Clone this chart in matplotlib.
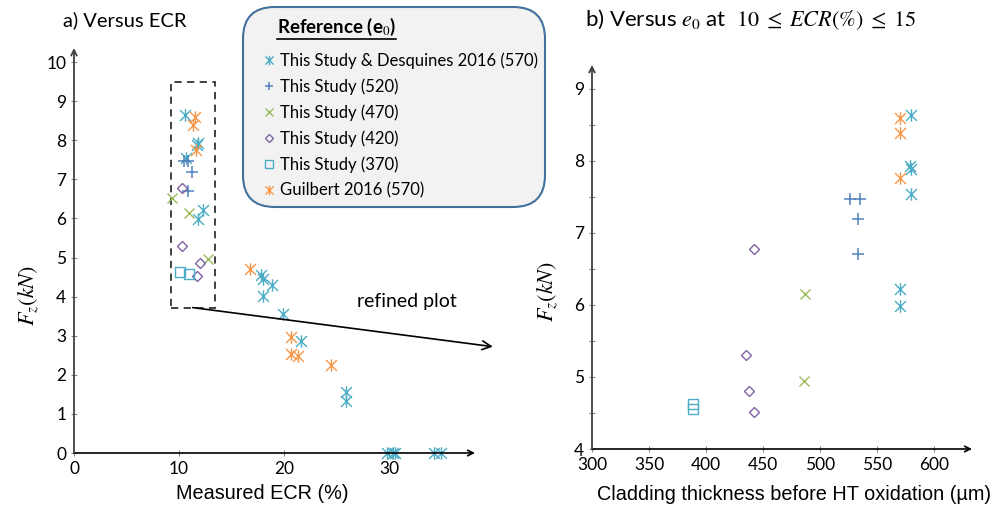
import numpy as np
import matplotlib
matplotlib.use("Agg")
import matplotlib.pyplot as plt
from matplotlib.path import Path
from matplotlib.patches import Rectangle, FancyBboxPatch
from matplotlib.lines import Line2D

plt.rcParams['font.family'] = ['Lato', 'DejaVu Sans']
plt.rcParams['mathtext.fontset'] = 'stix'

# --- datos ---
# a) Fz vs ECR medido
ecr_570 = [10.6, 11.8, 11.7, 10.7, 12.3, 11.8, 17.8, 18.0, 18.9, 18.0, 19.9, 21.6,
           25.9, 25.9, 29.8, 30.4, 30.6, 34.3, 35.0]
fz_570 = [8.64, 7.93, 7.88, 7.54, 6.22, 5.99, 4.55, 4.46, 4.31, 4.02, 3.55, 2.86,
          1.56, 1.33, 0, 0, 0, 0, 0]
ecr_guil = [11.5, 11.3, 11.6, 16.8, 20.7, 20.7, 21.3, 24.5]
fz_guil = [8.59, 8.38, 7.76, 4.71, 2.97, 2.52, 2.48, 2.25]
ecr_520 = [10.5, 10.9, 11.2, 10.9]
fz_520 = [7.47, 7.47, 7.19, 6.71]
ecr_470 = [9.3, 11.0, 12.8]
fz_470 = [6.53, 6.15, 4.96]
ecr_420 = [10.3, 10.3, 12.0, 11.7]
fz_420 = [6.77, 5.30, 4.85, 4.54]
ecr_370 = [10.1, 11.0]
fz_370 = [4.64, 4.58]

# b) Fz vs espesor inicial (10 <= ECR <= 15)
e0_570 = [579.8, 579.0, 580.0, 579.8, 570.2, 570.0]
fzb_570 = [8.64, 7.93, 7.88, 7.54, 6.22, 5.99]
e0_guil = [570.2, 570.0, 570.0]
fzb_guil = [8.59, 8.38, 7.76]
e0_520 = [526.3, 535.0, 533.6, 533.6]
fzb_520 = [7.47, 7.47, 7.19, 6.71]
e0_470 = [486.8, 486.0]
fzb_470 = [6.15, 4.95]
e0_420 = [442.0, 434.8, 437.7, 442.0]
fzb_420 = [6.77, 5.30, 4.80, 4.52]
e0_370 = [388.9, 388.9]
fzb_370 = [4.63, 4.55]

labels = ['This Study & Desquines 2016 (570)', 'This Study (520)', 'This Study (470)',
          'This Study (420)', 'This Study (370)', 'Guilbert 2016 (570)']

cyan, orange, blue = '#4bacc6', '#f79646', '#4f81bd'
green, purple = '#9bbb59', '#8064a2'

# marcador asterisco tipo Excel (x + barra vertical)
ast = Path([(-1, -1), (1, 1), (-1, 1), (1, -1), (0, -1.15), (0, 1.15)],
           [Path.MOVETO, Path.LINETO] * 3)

styles = [dict(marker=ast, color=cyan, ms=9, mew=1.0),
          dict(marker='+', color=blue, ms=8, mew=1.1),
          dict(marker='x', color=green, ms=7, mew=1.0),
          dict(marker='D', color=purple, ms=5.5, mew=1.0, mfc='none'),
          dict(marker='s', color=cyan, ms=7, mew=1.0, mfc='none'),
          dict(marker=ast, color=orange, ms=9, mew=1.0)]


def setup_axes(ax):
    for s in ax.spines.values():
        s.set_visible(False)
    ax.annotate('', xy=(1, 0), xytext=(0, 0), xycoords='axes fraction',
                arrowprops=dict(arrowstyle='->', color='black', lw=1.2,
                                shrinkA=0, shrinkB=0))
    ax.annotate('', xy=(0, 1), xytext=(0, 0), xycoords='axes fraction',
                arrowprops=dict(arrowstyle='->', color='#404040', lw=1.3,
                                shrinkA=0, shrinkB=0))
    ax.tick_params(direction='inout', length=5, width=0.8, color='#888888',
                   labelsize=12.5, pad=3)
    ax.tick_params(which='minor', direction='inout', length=4, width=0.8,
                   color='#888888')


fig = plt.figure(figsize=(9.93, 5.09), dpi=100)

# ---- panel a ----
ax1 = fig.add_axes([74 / 993, 56 / 509, 401 / 993, 405 / 509])
setup_axes(ax1)
ax1.set_xlim(0, 38.2)
ax1.set_ylim(0, 10.36)
ax1.set_xticks([0, 10, 20, 30])
ax1.set_yticks(range(0, 11))
series_a = [(ecr_570, fz_570), (ecr_520, fz_520), (ecr_470, fz_470),
            (ecr_420, fz_420), (ecr_370, fz_370), (ecr_guil, fz_guil)]
for (x, y), st, lab in zip(series_a, styles, labels):
    ax1.plot(x, y, ls='none', label=lab, clip_on=False, **st)

ax1.add_patch(Rectangle((9.2, 3.72), 4.2, 5.78, fill=False, ls=(0, (4, 3)),
                        ec='#333333', lw=1.3))
ax1.annotate('', xy=(39.9, 2.72), xytext=(11.3, 3.72), annotation_clip=False,
             arrowprops=dict(arrowstyle='->', color='black', lw=1.2,
                             shrinkA=0, shrinkB=0, mutation_scale=16))
ax1.text(27.0, 3.88, 'refined plot', fontsize=14, va='center', ha='left')

ax1.set_xlabel('Measured ECR (%)', fontsize=14.3, family='Liberation Sans')
ax1.xaxis.set_label_coords(0.469, -0.077)
ax1.set_ylabel(r'$F_z(kN)$', fontsize=16)
ax1.yaxis.set_label_coords(-0.083, 0.39)

# ---- panel b ----
ax2 = fig.add_axes([592 / 993, 60 / 509, 380 / 993, 384 / 509])
setup_axes(ax2)
ax2.set_xlim(300, 633.3)
ax2.set_ylim(4, 9.33)
ax2.set_xticks(range(300, 601, 50))
ax2.set_yticks(range(4, 10))
ax2.set_yticks(np.arange(4.5, 9.1, 1.0), minor=True)
series_b = [(e0_570, fzb_570), (e0_520, fzb_520), (e0_470, fzb_470),
            (e0_420, fzb_420), (e0_370, fzb_370), (e0_guil, fzb_guil)]
for (x, y), st in zip(series_b, styles):
    ax2.plot(x, y, ls='none', clip_on=False, **st)

ax2.set_xlabel('Cladding thickness before HT oxidation (µm)', fontsize=14.3,
               family='Liberation Sans')
ax2.xaxis.set_label_coords(0.532, -0.094)
ax2.set_ylabel(r'$F_z(kN)$', fontsize=16)
ax2.yaxis.set_label_coords(-0.085, 0.409)

# titulos
fig.text(63 / 993, 1 - 20 / 509, 'a) Versus ECR', fontsize=14.5, va='center')
fig.text(585 / 993, 1 - 20 / 509,
         r'b) Versus $e_0$ at  $10\;\leq\;ECR(\%)\;\leq\;15$', fontsize=16,
         va='center')

# leyenda con caja redondeada
box = FancyBboxPatch((243 / 993, 1 - 207 / 509), 302 / 993, 200 / 509,
                     boxstyle='round,pad=0,rounding_size=0.032',
                     mutation_aspect=993 / 509, transform=fig.transFigure,
                     fc='#f2f2f2', ec='#41719c', lw=1.5)
fig.patches.append(box)
title = fig.text(277 / 993, 1 - 27 / 509, r'Reference (e$_0$)', fontsize=13.5,
                 fontweight='bold', va='center')
fig.canvas.draw()
bb = title.get_window_extent().transformed(fig.transFigure.inverted())
fig.add_artist(Line2D([bb.x0, bb.x1], [1 - 39 / 509] * 2, color='black', lw=1.2,
                      transform=fig.transFigure))

leg_handles = []
for st in styles:
    st2 = dict(st)
    st2['ms'] = st['ms'] * 0.75
    leg_handles.append(Line2D([], [], ls='none', **st2))
fig.legend(leg_handles, labels, loc='upper left', bbox_to_anchor=(262 / 993, 1 - 52 / 509),
           frameon=False, fontsize=12, labelspacing=0.57, handlelength=0.8,
           handletextpad=0.3, borderpad=0, borderaxespad=0)

fig.savefig('out.png', dpi=100)
